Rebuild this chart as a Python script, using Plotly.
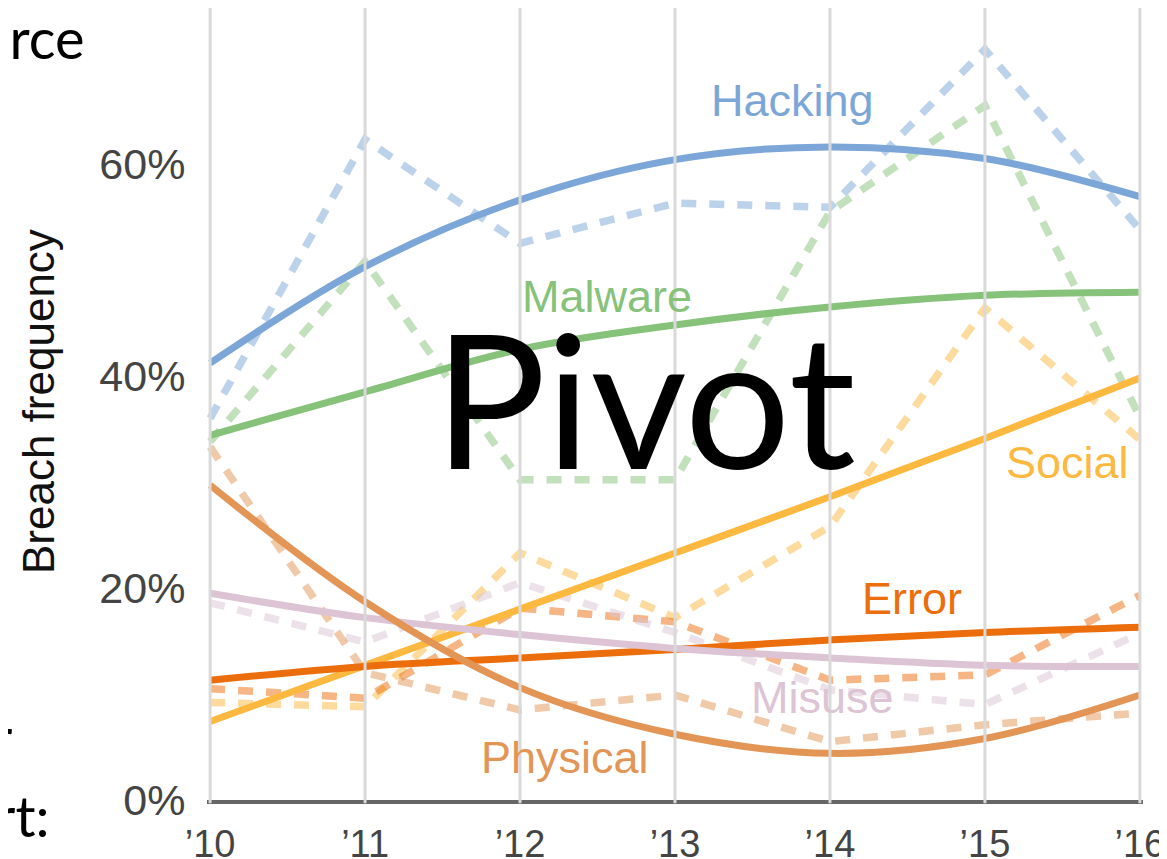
import plotly.graph_objects as go

# ---- data ----
years = [2010, 2011, 2012, 2013, 2014, 2015, 2016]
year_labels = ["\u201910", "\u201911", "\u201912", "\u201913", "\u201914", "\u201915", "\u201916"]
y_ticks = [0, 20, 40, 60]
y_tick_labels = ["0%", "20%", "40%", "60%"]

hacking_actual = [36.0, 62.3, 52.5, 56.3, 55.9, 70.8, 53.8]
hacking_trend = [41.2, 50.3, 56.6, 60.4, 61.6, 60.5, 56.9]
malware_actual = [33.8, 50.8, 30.2, 30.2, 55.5, 65.5, 36.1]
malware_trend = [34.4, 38.5, 42.5, 44.8, 46.5, 47.6, 47.9]
social_actual = [9.2, 8.8, 23.3, 17.2, 25.8, 46.4, 34.0]
social_trend = [7.4, 12.7, 18.0, 23.3, 28.6, 34.1, 39.8]
error_actual = [10.5, 9.6, 18.1, 16.8, 11.3, 11.8, 19.3]
error_trend = [11.3, 12.6, 13.4, 14.2, 15.1, 15.8, 16.3]
misuse_actual = [18.6, 14.9, 20.5, 15.8, 10.4, 9.0, 15.7]
misuse_trend = [19.5, 17.2, 15.6, 14.3, 13.4, 12.7, 12.6]
physical_actual = [33.3, 12.0, 8.5, 9.9, 5.5, 7.1, 8.2]
physical_trend = [29.7, 18.7, 10.6, 6.2, 4.4, 5.8, 9.9]

series = [
    ("Hacking", hacking_actual, hacking_trend, "#7CA6D8"),
    ("Malware", malware_actual, malware_trend, "#86C27A"),
    ("Social", social_actual, social_trend, "#FDB840"),
    ("Error", error_actual, error_trend, "#EC6D0B"),
    ("Misuse", misuse_actual, misuse_trend, "#DCC4D4"),
    ("Physical", physical_actual, physical_trend, "#E39556"),
]

# page has an 8px body margin: figure pixel = screen pixel - 8
OFF = 8
W, H = 1159, 851
L, R, T, B = 199, 24, 0, 59
PW, PH = W - L - R, H - T - B


def px(xs):
    return (xs - OFF - L) / PW


def py(ys):
    return (H - B - (ys - OFF)) / PH


fig = go.Figure()

# dotted actual values
for name, actual, trend, color in series:
    fig.add_trace(go.Scatter(
        x=years, y=actual, mode="lines", name=name + " actual",
        line=dict(color=color, width=7.5, dash="15px,13px"),
        opacity=0.5, hoverinfo="skip",
    ))

# solid trend lines
for name, actual, trend, color in series:
    fig.add_trace(go.Scatter(
        x=years, y=trend, mode="lines", name=name,
        line=dict(color=color, width=7, shape="spline", smoothing=1.0),
    ))

# vertical gridlines above the traces
shapes = []
for yr in years:
    shapes.append(dict(type="line", xref="x", yref="y domain", x0=yr, x1=yr, y0=-0.004, y1=1,
                       line=dict(color="#D9D9D9", width=3), layer="above"))

label_font = "Liberation Sans, Arial, Helvetica, sans-serif"
annotations = [
    dict(text="Hacking", x=2013.76, y=66.0, font=dict(color="#7CA6D8", size=45)),
    dict(text="Malware", x=2012.56, y=47.5, font=dict(color="#86C27A", size=45)),
    dict(text="Social", x=2015.53, y=31.8, font=dict(color="#FDB840", size=45)),
    dict(text="Error", x=2014.53, y=19.0, font=dict(color="#EC6D0B", size=45)),
    dict(text="Misuse", x=2013.95, y=9.7, font=dict(color="#DCC4D4", size=45)),
    dict(text="Physical", x=2012.29, y=4.0, font=dict(color="#E39556", size=45)),
]
for a in annotations:
    a.update(xref="x", yref="y", showarrow=False, xanchor="center", yanchor="middle")
    a["font"]["family"] = label_font

# axis title
annotations.append(dict(text="Breach frequency", xref="paper", yref="paper", x=px(38), y=py(402),
                        textangle=-90, showarrow=False, xanchor="center", yanchor="middle",
                        font=dict(family=label_font, size=44, color="#111111")))
# overlay text
annotations.append(dict(text="Pivot", xref="paper", yref="paper", x=px(645), y=py(396),
                        showarrow=False, xanchor="center", yanchor="middle",
                        font=dict(family="Lato, Carlito, Calibri, sans-serif", size=187, color="#000000")))
# cut-off slide text on the left
for txt, xr, yc in [("erce", 87, 37), ("r", 14, 736), ("rt:", 51, 815)]:
    annotations.append(dict(text=txt, xref="paper", yref="paper", x=px(xr), y=py(yc),
                            showarrow=False, xanchor="right", yanchor="middle",
                            font=dict(family="Lato, Carlito, Calibri, sans-serif", size=56, color="#000000")))

fig.update_layout(
    width=W, height=H,
    margin=dict(l=L, r=R, t=T, b=B, pad=0, autoexpand=False),
    paper_bgcolor="white", plot_bgcolor="white",
    showlegend=False,
    shapes=shapes,
    annotations=annotations,
    xaxis=dict(
        range=[2009.98, 2016.02], tickvals=years, ticktext=year_labels,
        showgrid=False, zeroline=False, automargin=False,
        showline=True, linecolor="#666666", linewidth=4,
        ticks="outside", ticklen=7, tickcolor="rgba(0,0,0,0)",
        tickfont=dict(family=label_font, size=38, color="#444444"),
        layer="above traces", fixedrange=True,
    ),
    yaxis=dict(
        range=[0, 74.7], tickvals=y_ticks, ticktext=y_tick_labels,
        showgrid=False, zeroline=False, showline=False, automargin=False,
        ticks="outside", ticklen=12, tickcolor="rgba(0,0,0,0)",
        tickfont=dict(family=label_font, size=43, color="#444444"),
        fixedrange=True,
    ),
)

fig.write_html("out.html")
